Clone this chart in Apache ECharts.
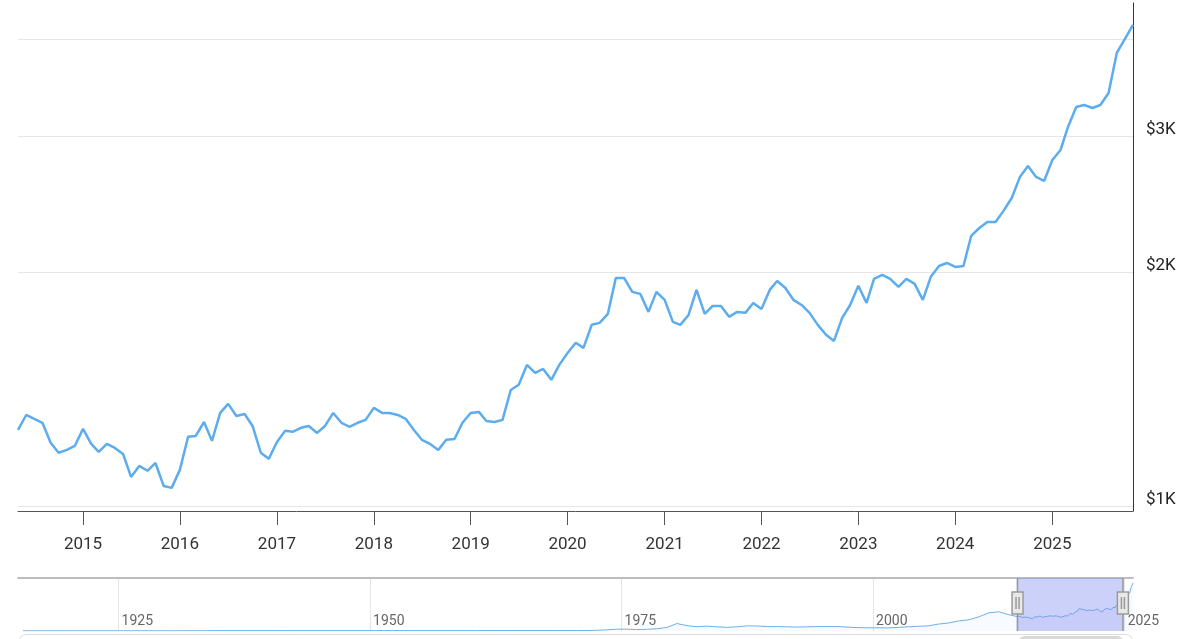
<!DOCTYPE html>
<html>
<head>
<meta charset="utf-8">
<title>Gold price</title>
<script src="https://cdn.jsdelivr.net/npm/echarts@6/dist/echarts.min.js"></script>
<style>
  html, body { margin: 0; padding: 0; background: #fff; }
  #chart { width: 1200px; height: 639px; }
</style>
</head>
<body>
<div id="chart"></div>
<script>
// monthly price (USD / oz), first value is May 2014
const firstMonth = [2014, 5]
const monthlyPrice = [
  1254, 1311, 1296, 1281, 1207, 1172, 1182, 1196,                   // 2014 May-Dec
  1258, 1203, 1175, 1203, 1189, 1168, 1091, 1127, 1111, 1137, 1062, 1056, // 2015
  1114, 1229, 1232, 1284, 1214, 1319, 1355, 1307, 1315, 1269, 1172, 1151, // 2016
  1210, 1251, 1247, 1262, 1269, 1243, 1269, 1319, 1281, 1266, 1281, 1292, // 2017
  1339, 1319, 1319, 1311, 1296, 1254, 1218, 1203, 1182, 1218, 1221, 1281, // 2018
  1319, 1323, 1288, 1284, 1292, 1412, 1434, 1521, 1485, 1503, 1455, 1521, // 2019
  1576, 1624, 1600, 1713, 1723, 1770, 1969, 1969, 1889, 1878, 1780, 1889, // 2020
  1845, 1728, 1713, 1764, 1900, 1770, 1812, 1812, 1754, 1780, 1775, 1828, // 2021
  1796, 1900, 1951, 1911, 1845, 1817, 1775, 1713, 1663, 1633, 1749, 1817, // 2022
  1923, 1828, 1963, 1986, 1963, 1917, 1963, 1934, 1845, 1975, 2040, 2058, // 2023
  2034, 2040, 2230, 2283, 2324, 2324, 2402, 2496, 2657, 2745, 2657, 2625, // 2024
  2794, 2878, 3081, 3269, 3289, 3260, 3289, 3408, 3838, 4000, 4170        // 2025 Jan-Nov
]

// long history for the overview strip (one value per year)
const historyYears = [1915, 1920, 1925, 1930, 1933, 1934, 1940, 1950, 1960, 1968, 1970,
  1971, 1972, 1973, 1974, 1975, 1976, 1977, 1978, 1979, 1980, 1981, 1982, 1983, 1984,
  1985, 1986, 1987, 1988, 1989, 1990, 1991, 1992, 1993, 1994, 1995, 1996, 1997, 1998,
  1999, 2000, 2001, 2002, 2003, 2004, 2005, 2006, 2007, 2008, 2009, 2010, 2011, 2012,
  2013]
const historyPrice = [19, 20, 20, 21, 24, 35, 35, 35, 35, 39, 36,
  41, 58, 97, 159, 161, 125, 148, 193, 306, 650, 460, 376, 424, 361,
  317, 368, 447, 437, 381, 383, 362, 344, 360, 384, 384, 388, 331, 294,
  279, 279, 271, 310, 363, 409, 444, 603, 695, 872, 972, 1225, 1572, 1669,
  1411]

const yearTicks = [2015, 2016, 2017, 2018, 2019, 2020, 2021, 2022, 2023, 2024, 2025]
const overviewTicks = [1925, 1950, 1975, 2000, 2025]
const priceTicks = [1000, 2000, 3000, 4000]
const priceLabels = [1000, 2000, 3000]

// time as plain numbers (ms), so custom ticks work on value axes
const ts = (y, m) => new Date(y, (m || 1) - 1, 1).getTime()
const lg = v => Math.log2(v / 1000)
const yearOf = v => String(new Date(v).getFullYear())

const mainData = monthlyPrice.map((p, i) => [ts(firstMonth[0], firstMonth[1] + i), lg(p)])
const overviewData = historyYears.map((y, i) => [ts(y, 7), historyPrice[i]])
  .concat(monthlyPrice.map((p, i) => [ts(firstMonth[0], firstMonth[1] + i), p]))

const chart = echarts.init(document.getElementById('chart'))

const option = {
  animation: false,
  textStyle: { fontFamily: 'Roboto' },
  grid: [
    { left: 18, right: 67, top: 3, bottom: 128 },
    { left: 18, right: 67, top: 578, height: 53 }
  ],
  xAxis: [{
    type: 'value',
    gridIndex: 0,
    min: ts(2014, 5),
    max: ts(2025, 11),
    axisLine: { show: true, onZero: false, lineStyle: { color: '#555', width: 1 } },
    axisTick: { show: true, length: 14, customValues: yearTicks.map(y => ts(y)), lineStyle: { color: '#555' } },
    axisLabel: { customValues: yearTicks.map(y => ts(y)), formatter: yearOf, fontSize: 17, color: '#333', margin: 25 },
    splitLine: { show: false }
  }, {
    type: 'value',
    gridIndex: 1,
    min: ts(1915),
    max: ts(2025, 11),
    axisLine: { show: false, onZero: false },
    axisTick: { show: false, customValues: overviewTicks.map(y => ts(y)) },
    axisLabel: {
      customValues: overviewTicks.map(y => ts(y)),
      formatter: yearOf,
      inside: true,
      align: 'left',
      verticalAlign: 'bottom',
      margin: 3,
      padding: [0, 0, 0, 3],
      fontSize: 14,
      color: '#666'
    },
    splitLine: { show: true, lineStyle: { color: '#e4e4e4' } }
  }, {
    // only carries the top border and the range slider
    type: 'value',
    gridIndex: 1,
    position: 'top',
    min: ts(1915),
    max: ts(2025, 11),
    axisLine: { show: true, onZero: false, lineStyle: { color: '#bdbdbd', width: 2 } },
    axisTick: { show: false },
    axisLabel: { show: false },
    splitLine: { show: false }
  }],
  yAxis: [{
    type: 'value',
    gridIndex: 0,
    position: 'right',
    min: lg(986),
    max: lg(4451),
    axisLine: { show: true, onZero: false, lineStyle: { color: '#333' } },
    axisTick: { show: false, customValues: priceTicks.map(lg) },
    axisLabel: {
      customValues: priceLabels.map(lg),
      formatter: v => '$' + Math.round(Math.pow(2, v)) + 'K',
      fontSize: 17,
      lineHeight: 13,
      color: '#222',
      margin: 13,
      verticalAlign: 'bottom'
    },
    splitLine: { show: true, lineStyle: { color: '#e6e6e6' } }
  }, {
    type: 'value',
    gridIndex: 1,
    min: 0,
    max: 4600,
    show: false
  }],
  dataZoom: [{
    type: 'slider',
    xAxisIndex: 2,
    startValue: ts(2014, 3),
    endValue: ts(2024, 11),
    left: 18,
    right: 67,
    top: 578,
    height: 53,
    backgroundColor: 'rgba(0,0,0,0)',
    borderColor: 'rgba(0,0,0,0)',
    fillerColor: 'rgba(120,135,240,0.38)',
    showDataShadow: false,
    showDetail: false,
    brushSelect: false,
    moveHandleSize: 0,
    handleIcon: 'path://M5.5,0V17M5.5,39V53M0,17H11V39H0ZM4,22V34M7,22V34',
    handleSize: '100%',
    handleStyle: { color: '#e8e8e8', borderColor: '#9a9a9a', borderWidth: 1.5 }
  }],
  graphic: [
    { type: 'rect', left: 18, top: 634, shape: { width: 1115, height: 24, r: 8 }, style: { fill: '#fff', stroke: '#dcdcdc', lineWidth: 1 } },
    { type: 'rect', left: 1018, top: 636, shape: { width: 106, height: 20, r: 7 }, style: { fill: '#d9d9d9' } }
  ],
  series: [{
    name: 'Gold',
    type: 'line',
    xAxisIndex: 0,
    yAxisIndex: 0,
    data: mainData,
    showSymbol: false,
    lineStyle: { color: '#5cacee', width: 2.5 }
  }, {
    name: 'Overview',
    type: 'line',
    xAxisIndex: 1,
    yAxisIndex: 1,
    data: overviewData,
    showSymbol: false,
    lineStyle: { color: '#6fb0ea', width: 1 },
    areaStyle: { color: 'rgba(100,165,235,0.07)' }
  }]
}

chart.setOption(option)
window.addEventListener('resize', () => chart.resize())
</script>
</body>
</html>
